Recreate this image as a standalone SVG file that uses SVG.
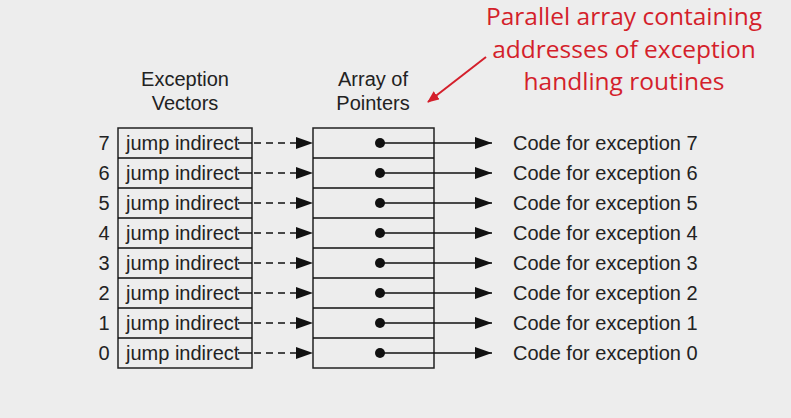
<svg xmlns="http://www.w3.org/2000/svg" width="791" height="418" viewBox="0 0 791 418">
<defs>
<style>
.t{font-family:"Liberation Sans",Arial,sans-serif;font-size:20px;fill:#222}
.r{font-family:"Open Sans","Noto Sans",sans-serif;font-size:24.5px;fill:#d41f2b;text-anchor:middle}
.box{fill:none;stroke:#222;stroke-width:1.5}
.sol{stroke:#111;stroke-width:1.5;fill:none}
.dash{stroke:#111;stroke-width:1.5;stroke-dasharray:7,5;fill:none}
</style>
<marker id="ah" markerWidth="17" markerHeight="12" refX="17" refY="6" orient="auto" markerUnits="userSpaceOnUse"><path d="M0,0 L17,6 L0,12 Z" fill="#111"/></marker>
<marker id="ra" markerWidth="12" markerHeight="10" refX="11" refY="5" orient="auto" markerUnits="userSpaceOnUse"><path d="M0,0 L12,5 L0,10 Z" fill="#d41f2b"/></marker>
</defs>
<rect width="791" height="418" fill="#ededed"/>
<g id="headers">
<text class="t" x="185" y="86" text-anchor="middle">Exception</text>
<text class="t" x="185" y="110" text-anchor="middle">Vectors</text>
<text class="t" x="373" y="86" text-anchor="middle">Array of</text>
<text class="t" x="373" y="110" text-anchor="middle">Pointers</text>
</g>
<g id="annotation">
<text class="r" x="624" y="25">Parallel array containing</text>
<text class="r" x="624" y="58">addresses of exception</text>
<text class="r" x="624" y="90">handling routines</text>
<line x1="486" y1="57" x2="428" y2="102" stroke="#d41f2b" stroke-width="2" marker-end="url(#ra)"/>
</g>
<g id="vectors">
<rect class="box" x="118" y="128" width="134" height="240"/>
<path class="sol" d="M118,158H252M118,188H252M118,218H252M118,248H252M118,278H252M118,308H252M118,338H252"/>
</g>
<g id="pointers">
<rect class="box" x="313" y="128" width="121" height="240"/>
<path class="sol" d="M313,158H434M313,188H434M313,218H434M313,248H434M313,278H434M313,308H434M313,338H434"/>
</g>
<g id="labels">
<text class="t" x="104" y="150" text-anchor="middle">7</text>
<text class="t" x="104" y="180" text-anchor="middle">6</text>
<text class="t" x="104" y="210" text-anchor="middle">5</text>
<text class="t" x="104" y="240" text-anchor="middle">4</text>
<text class="t" x="104" y="270" text-anchor="middle">3</text>
<text class="t" x="104" y="300" text-anchor="middle">2</text>
<text class="t" x="104" y="330" text-anchor="middle">1</text>
<text class="t" x="104" y="360" text-anchor="middle">0</text>
<text class="t" x="126" y="150">jump indirect</text>
<text class="t" x="126" y="180">jump indirect</text>
<text class="t" x="126" y="210">jump indirect</text>
<text class="t" x="126" y="240">jump indirect</text>
<text class="t" x="126" y="270">jump indirect</text>
<text class="t" x="126" y="300">jump indirect</text>
<text class="t" x="126" y="330">jump indirect</text>
<text class="t" x="126" y="360">jump indirect</text>
<text class="t" x="513" y="150">Code for exception 7</text>
<text class="t" x="513" y="180">Code for exception 6</text>
<text class="t" x="513" y="210">Code for exception 5</text>
<text class="t" x="513" y="240">Code for exception 4</text>
<text class="t" x="513" y="270">Code for exception 3</text>
<text class="t" x="513" y="300">Code for exception 2</text>
<text class="t" x="513" y="330">Code for exception 1</text>
<text class="t" x="513" y="360">Code for exception 0</text>
</g>
<g id="connectors">
<g fill="#111">
<circle cx="380" cy="143" r="5"/><circle cx="380" cy="173" r="5"/><circle cx="380" cy="203" r="5"/><circle cx="380" cy="233" r="5"/>
<circle cx="380" cy="263" r="5"/><circle cx="380" cy="293" r="5"/><circle cx="380" cy="323" r="5"/><circle cx="380" cy="353" r="5"/>
</g>
<path class="sol" d="M238,143H252M238,173H252M238,203H252M238,233H252M238,263H252M238,293H252M238,323H252M238,353H252"/>
<g class="dash" marker-end="url(#ah)">
<path d="M254,143H313"/><path d="M254,173H313"/><path d="M254,203H313"/><path d="M254,233H313"/>
<path d="M254,263H313"/><path d="M254,293H313"/><path d="M254,323H313"/><path d="M254,353H313"/>
</g>
<g class="sol" marker-end="url(#ah)">
<path d="M380,143H492"/><path d="M380,173H492"/><path d="M380,203H492"/><path d="M380,233H492"/>
<path d="M380,263H492"/><path d="M380,293H492"/><path d="M380,323H492"/><path d="M380,353H492"/>
</g>
</g>
</svg>
